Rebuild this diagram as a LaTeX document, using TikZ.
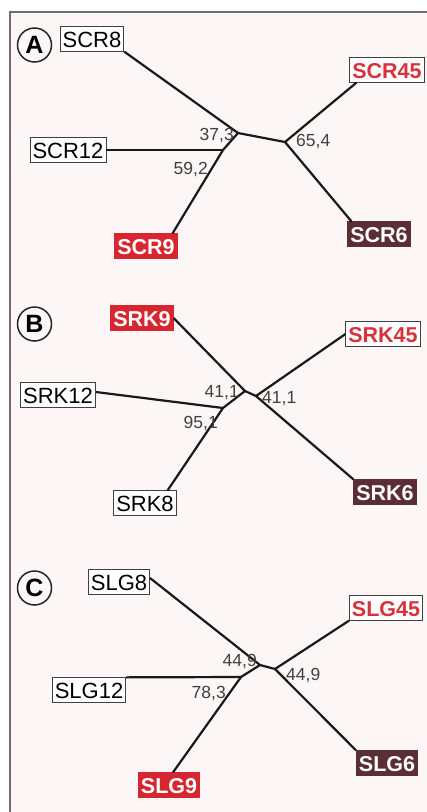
\documentclass[tikz,border=0pt]{standalone}
\usepackage{fontspec}
\setmainfont{Liberation Sans}
\definecolor{redfill}{HTML}{D7262F}
\definecolor{redtext}{HTML}{D8323C}
\definecolor{darkfill}{HTML}{5B2E36}
\definecolor{bgpink}{HTML}{FCF6F6}
\definecolor{framegray}{HTML}{6E6E6E}
\tikzset{
  lbox/.style={draw=black!75, line width=0.8pt, fill=white, inner xsep=2.5pt, inner ysep=0pt,
    minimum height=24.5pt, text height=16pt, text depth=0pt, font=\fontsize{22}{24}\selectfont},
  plainbox/.style={lbox, text=black},
  redtxtbox/.style={lbox, text=redtext, font=\fontsize{21.5}{24}\selectfont\bfseries},
  redbox/.style={lbox, draw=redfill, fill=redfill, text=white, font=\fontsize{21.5}{24}\selectfont\bfseries},
  darkbox/.style={lbox, draw=darkfill, fill=darkfill, text=white, font=\fontsize{21.5}{24}\selectfont\bfseries},
  edge/.style={line width=2.2pt, black!90},
  num/.style={inner sep=0pt, text=black!75, font=\fontsize{17.5}{18}\selectfont},
  panel/.style={circle, draw=black!85, line width=1.5pt, minimum size=34pt, inner sep=0pt,
    font=\fontsize{25}{25}\selectfont\bfseries}
}
\begin{document}
\begin{tikzpicture}[x=1pt, y=-1pt]
\useasboundingbox (0,0) rectangle (427,812);
\fill[white] (0,0) rectangle (427,812);
\fill[bgpink] (10,12) rectangle (427,812);
\draw[framegray, line width=1.5pt] (10,812) -- (10,12) -- (427,12);

% ---------- Panel A ----------
\node[panel] (pA) at (34.5,45) {A};
\node[plainbox] (SCR8) at (92,39) {SCR8};
\node[redtxtbox] (SCR45) at (387,70) {SCR45};
\node[plainbox] (SCR12) at (68,150) {SCR12};
\node[redbox] (SCR9) at (146,246) {SCR9};
\node[darkbox] (SCR6) at (379,234) {SCR6};
\coordinate (a1) at (238,133);
\coordinate (a2) at (285,142);
\coordinate (a3) at (223,150);
\draw[edge] (SCR8.south east) -- (a1);
\draw[edge] (SCR12.east) -- (a3);
\draw[edge] ([xshift=-5pt]SCR9.north east) -- (a3) -- (a1) -- (a2);
\draw[edge] (a2) -- ([xshift=7pt]SCR45.south west);
\draw[edge] (a2) -- ([xshift=4pt]SCR6.north west);
\node[num, anchor=east] (lA1) at (234,136) {37,3};
\node[num, anchor=west] (lA2) at (296,142) {65,4};
\node[num, anchor=east] (lA3) at (208,170) {59,2};

% ---------- Panel B ----------
\node[panel] (pB) at (34.5,324) {B};
\node[redbox] (SRK9) at (142,318) {SRK9};
\node[redtxtbox] (SRK45) at (383,334) {SRK45};
\node[plainbox] (SRK12) at (58,395) {SRK12};
\node[plainbox] (SRK8) at (145,503) {SRK8};
\node[darkbox] (SRK6) at (385,492) {SRK6};
\coordinate (b1) at (245,391);
\coordinate (b2) at (256,396);
\coordinate (b3) at (223,408);
\draw[edge] (SRK9.east) -- (b1) -- (b2) -- (SRK6.north west);
\draw[edge] (b2) -- (SRK45.west);
\draw[edge] ([yshift=3pt]SRK12.east) -- (b3);
\draw[edge] ([xshift=-9pt]SRK8.north east) -- (b3) -- (b1);
\node[num, anchor=east] (lB1) at (239,393) {41,1};
\node[num, anchor=west] (lB2) at (262,399) {41,1};
\node[num, anchor=east] (lB3) at (218,424) {95,1};

% ---------- Panel C ----------
\node[panel] (pC) at (34.5,588) {C};
\node[plainbox] (SLG8) at (119,582) {SLG8};
\node[redtxtbox] (SLG45) at (386,608) {SLG45};
\node[plainbox] (SLG12) at (89,690) {SLG12};
\node[redbox] (SLG9) at (169,785) {SLG9};
\node[darkbox] (SLG6) at (387,763) {SLG6};
\coordinate (c1) at (260,665);
\coordinate (c2) at (275,669);
\coordinate (c3) at (241,677);
\draw[edge] ([yshift=4pt]SLG8.east) -- (c1) -- (c2);
\draw[edge] (c2) -- (SLG45.south west);
\draw[edge] (c2) -- (SLG6.north west);
\draw[edge] (SLG12.north east) -- (c3);
\draw[edge] ([xshift=4pt]SLG9.north) -- (c3) -- (c1);
\node[num, anchor=east] (lC1) at (257,662) {44,9};
\node[num, anchor=west] (lC2) at (286,675) {44,9};
\node[num, anchor=east] (lC3) at (226,693) {78,3};
\end{tikzpicture}
\end{document}
